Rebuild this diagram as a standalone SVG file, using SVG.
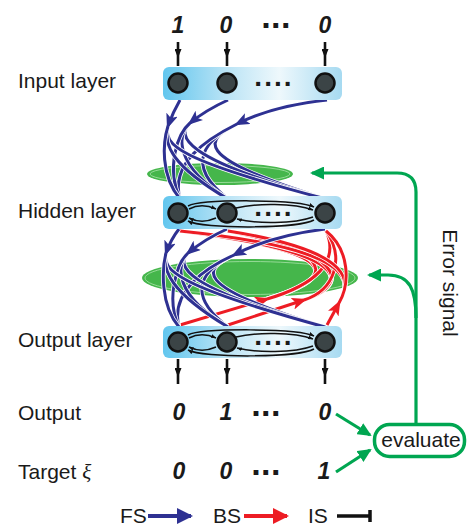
<svg xmlns="http://www.w3.org/2000/svg" width="467" height="526" viewBox="0 0 467 526">
<style>
text{font-family:"Liberation Sans",Arial,sans-serif;fill:#1a1a1a}
.lbl{font-size:21px}
.num{font-size:23px;font-weight:bold;font-style:italic;text-anchor:middle}
.dots{font-size:34px;font-weight:bold;text-anchor:middle;letter-spacing:-1.5px}
.bdots{font-size:28px;font-weight:bold;text-anchor:middle;letter-spacing:0.5px}
.box{fill:url(#lay)}
.nd{fill:#3b4446;stroke:#111;stroke-width:2.5}
.lat{fill:none;stroke:#111;stroke-width:1.5;marker-end:url(#mS)}
.fs{fill:none;stroke:#2e3192;stroke-width:3}
.bs{fill:none;stroke:#ed1c24;stroke-width:3}
.halo{fill:none;stroke:#fff;stroke-width:4.6}
.gr{fill:none;stroke:#00a651;stroke-width:3.2;marker-end:url(#mG)}
.blk{fill:none;stroke:#111;stroke-width:2.6;marker-mid:url(#mK)}
.ell{fill:#45b64b}
.ell2{fill:none;stroke:#a8e2a8;stroke-width:0.8}
</style>
<defs>
<linearGradient id="lay" x1="0" y1="0" x2="1" y2="0">
<stop offset="0" stop-color="#62c6ee"/>
<stop offset="0.35" stop-color="#b9e3f5"/>
<stop offset="0.65" stop-color="#eef8fc"/>
<stop offset="1" stop-color="#a6daf1"/>
</linearGradient>
<marker id="mB" markerUnits="userSpaceOnUse" viewBox="0 0 15 12" refX="12" refY="6" markerWidth="15" markerHeight="12" orient="auto"><path d="M0,0 L15,6 L0,12 L3.5,6 Z" fill="#2e3192"/></marker>
<marker id="mR" markerUnits="userSpaceOnUse" viewBox="0 0 15 12" refX="12" refY="6" markerWidth="15" markerHeight="12" orient="auto"><path d="M0,0 L15,6 L0,12 L3.5,6 Z" fill="#ed1c24"/></marker>
<marker id="mG" markerUnits="userSpaceOnUse" viewBox="0 0 14 13" refX="12" refY="6.5" markerWidth="14" markerHeight="13" orient="auto"><path d="M0,0 L14,6.5 L0,13 Z" fill="#00a651"/></marker>
<marker id="mK" markerUnits="userSpaceOnUse" viewBox="0 0 9 7" refX="9" refY="3.5" markerWidth="9" markerHeight="7" orient="auto"><path d="M0,0 L9,3.5 L0,7 Z" fill="#111"/></marker>
<marker id="mS" markerUnits="userSpaceOnUse" viewBox="0 0 5 4" refX="5" refY="2" markerWidth="5" markerHeight="4" orient="auto"><path d="M0,0 L5,2 L0,4 Z" fill="#111"/></marker>
<marker id="mLB" markerUnits="userSpaceOnUse" viewBox="0 0 16 16" refX="14" refY="8" markerWidth="16" markerHeight="16" orient="auto"><path d="M0,0 L16,8 L0,16 Z" fill="#2e3192"/></marker>
<marker id="mLR" markerUnits="userSpaceOnUse" viewBox="0 0 16 16" refX="14" refY="8" markerWidth="16" markerHeight="16" orient="auto"><path d="M0,0 L16,8 L0,16 Z" fill="#ed1c24"/></marker>
</defs>

<g id="labels">
<text class="lbl" x="18" y="88">Input layer</text>
<text class="lbl" x="18" y="218">Hidden layer</text>
<text class="lbl" x="18" y="347">Output layer</text>
<text class="lbl" x="18" y="420">Output</text>
<text class="lbl" x="18" y="479">Target <tspan font-family="'Liberation Serif',serif" font-style="italic">ξ</tspan></text>
</g>

<g id="input-values">
<text class="num" x="178" y="33">1</text>
<text class="num" x="226" y="33">0</text>
<text class="dots" x="276" y="37">···</text>
<text class="num" x="325" y="33">0</text>
</g>
<g id="output-values">
<text class="num" x="179" y="420">0</text>
<text class="num" x="226" y="420">1</text>
<text class="dots" x="266" y="425">···</text>
<text class="num" x="325" y="420">0</text>
</g>
<g id="target-values">
<text class="num" x="179" y="479">0</text>
<text class="num" x="226" y="479">0</text>
<text class="dots" x="266" y="484">···</text>
<text class="num" x="324" y="479">1</text>
</g>

<g id="regions">
<ellipse class="ell" cx="220" cy="174" rx="73" ry="11"/>
<ellipse class="ell2" cx="220" cy="174" rx="70" ry="8.5"/>
<ellipse class="ell" cx="250" cy="278" rx="108" ry="19"/>
<ellipse class="ell2" cx="250" cy="278" rx="105" ry="16.5"/>
</g>

<g id="connectors">
<path class="blk" d="M178,42 L178,58 L178,66"/>
<path class="blk" d="M227,42 L227,58 L227,66"/>
<path class="blk" d="M325,42 L325,58 L325,66"/>
<path class="blk" d="M178,359 L178,377 L178,384"/>
<path class="blk" d="M227,359 L227,377 L227,384"/>
<path class="blk" d="M325,359 L325,377 L325,384"/>

<path class="halo" d="M237,124 C207,139 186,156 326,199"/><path class="fs" d="M237,124 C207,139 186,156 326,199"/>
<path class="halo" d="M237,124 C207,139 182,163 228,199"/><path class="fs" d="M237,124 C207,139 182,163 228,199"/>
<path class="halo" d="M237,124 C207,139 170,163 180,199"/><path class="fs" d="M237,124 C207,139 170,163 180,199"/>
<path class="halo" d="M190,123 C177,136 180,158 326,199"/><path class="fs" d="M190,123 C177,136 180,158 326,199"/>
<path class="halo" d="M190,123 C177,136 174,165 228,199"/><path class="fs" d="M190,123 C177,136 174,165 228,199"/>
<path class="halo" d="M190,123 C177,134 166,168 180,199"/><path class="fs" d="M190,123 C177,134 166,168 180,199"/>
<path class="halo" d="M168,126 C163,145 178,160 326,199"/><path class="fs" d="M168,126 C163,145 178,160 326,199"/>
<path class="halo" d="M168,126 C163,145 172,166 228,199"/><path class="fs" d="M168,126 C163,145 172,166 228,199"/>
<path class="halo" d="M168,126 C163,142 160,175 180,199"/><path class="fs" d="M168,126 C163,142 160,175 180,199"/>
<path class="halo" d="M327,100 Q272,106 237,124"/><path class="fs" d="M327,100 Q272,106 237,124" marker-end="url(#mB)"/>
<path class="halo" d="M228,100 Q206,110 190,123"/><path class="fs" d="M228,100 Q206,110 190,123" marker-end="url(#mB)"/>
<path class="halo" d="M180,100 Q173,112 168,126"/><path class="fs" d="M180,100 Q173,112 168,126" marker-end="url(#mB)"/>

<path class="halo" d="M267,299 C325,282 365,255 180,231"/><path class="bs" d="M267,299 C325,282 365,255 180,231"/>
<path class="halo" d="M267,299 C322,283 355,258 228,231"/><path class="bs" d="M267,299 C322,283 355,258 228,231"/>
<path class="halo" d="M267,299 C315,285 340,262 326,231"/><path class="bs" d="M267,299 C315,285 340,262 326,231"/>
<path class="halo" d="M304,300 C340,289 372,255 180,231"/><path class="bs" d="M304,300 C340,289 372,255 180,231"/>
<path class="halo" d="M304,300 C338,289 365,258 228,231"/><path class="bs" d="M304,300 C338,289 365,258 228,231"/>
<path class="halo" d="M304,300 C335,290 345,258 326,231"/><path class="bs" d="M304,300 C335,290 345,258 326,231"/>
<path class="halo" d="M339,303 C350,284 365,250 180,231"/><path class="bs" d="M339,303 C350,284 365,250 180,231"/>
<path class="halo" d="M339,303 C350,284 360,252 228,231"/><path class="bs" d="M339,303 C350,284 360,252 228,231"/>
<path class="halo" d="M339,303 C350,284 350,250 326,231"/><path class="bs" d="M339,303 C350,284 350,250 326,231"/>
<path class="halo" d="M180,325 L267,299"/><path class="bs" d="M180,325 L267,299" marker-end="url(#mR)"/>
<path class="halo" d="M228,325 L304,300"/><path class="bs" d="M228,325 L304,300" marker-end="url(#mR)"/>
<path class="halo" d="M327,325 Q333,314 339,303"/><path class="bs" d="M327,325 Q333,314 339,303" marker-end="url(#mR)"/>

<path class="halo" d="M234,255 C205,268 186,285 325,327"/><path class="fs" d="M234,255 C205,268 186,285 325,327"/>
<path class="halo" d="M234,255 C205,268 182,292 228,327"/><path class="fs" d="M234,255 C205,268 182,292 228,327"/>
<path class="halo" d="M234,255 C205,268 170,292 179,327"/><path class="fs" d="M234,255 C205,268 170,292 179,327"/>
<path class="halo" d="M188,253 C176,266 182,287 325,327"/><path class="fs" d="M188,253 C176,266 182,287 325,327"/>
<path class="halo" d="M188,253 C176,266 174,295 228,327"/><path class="fs" d="M188,253 C176,266 174,295 228,327"/>
<path class="halo" d="M188,253 C176,264 166,300 179,327"/><path class="fs" d="M188,253 C176,264 166,300 179,327"/>
<path class="halo" d="M166,253 C162,270 176,286 325,327"/><path class="fs" d="M166,253 C162,270 176,286 325,327"/>
<path class="halo" d="M166,253 C162,270 170,292 228,327"/><path class="fs" d="M166,253 C162,270 170,292 228,327"/>
<path class="halo" d="M166,253 C162,268 160,305 179,327"/><path class="fs" d="M166,253 C162,268 160,305 179,327"/>
<path class="halo" d="M325,229 Q270,236 234,255"/><path class="fs" d="M325,229 Q270,236 234,255" marker-end="url(#mB)"/>
<path class="halo" d="M227,229 Q205,239 188,253"/><path class="fs" d="M227,229 Q205,239 188,253" marker-end="url(#mB)"/>
<path class="halo" d="M179,229 Q171,239 166,253"/><path class="fs" d="M179,229 Q171,239 166,253" marker-end="url(#mB)"/>

<path class="gr" d="M416,424 L416,192 Q416,173 397,173 L312,173"/>
<path class="gr" d="M416,318 C416,290 410,275 388,275 L369,275"/>
<path class="gr" d="M336,414 L370,435"/>
<path class="gr" d="M336,472 L370,450"/>
</g>

<g id="input-layer">
<rect class="box" x="163" y="67" width="179" height="33" rx="6"/>
<text class="bdots" x="274" y="93">····</text>
</g>
<g id="hidden-layer">
<rect class="box" x="163" y="196" width="179" height="33" rx="6"/>
<text class="bdots" x="274" y="223">····</text>
</g>
<g id="output-layer">
<rect class="box" x="163" y="326" width="179" height="32" rx="6"/>
<text class="bdots" x="274" y="352">····</text>
</g>

<g id="lateral-connectors">
<g transform="translate(0,213)">
<path class="lat" d="M188,-7 C202,-14 298,-14 314,-6"/>
<path class="lat" d="M236,-5 C256,-10 294,-10 313,-3"/>
<path class="lat" d="M189,-4 C197,-8 207,-8 216,-4"/>
<path class="lat" d="M216,5 C207,9 197,9 189,5"/>
<path class="lat" d="M313,4 C294,11 256,11 237,6"/>
<path class="lat" d="M314,7 C298,16 202,16 188,8"/>
</g>
<g transform="translate(0,342)">
<path class="lat" d="M188,-7 C202,-14 298,-14 314,-6"/>
<path class="lat" d="M236,-5 C256,-10 294,-10 313,-3"/>
<path class="lat" d="M189,-4 C197,-8 207,-8 216,-4"/>
<path class="lat" d="M216,5 C207,9 197,9 189,5"/>
<path class="lat" d="M313,4 C294,11 256,11 237,6"/>
<path class="lat" d="M314,7 C298,16 202,16 188,8"/>
</g>
</g>

<g id="in1"><circle class="nd" cx="178" cy="83" r="9.5"/></g>
<g id="in2"><circle class="nd" cx="227" cy="83" r="9.5"/></g>
<g id="in3"><circle class="nd" cx="325" cy="83" r="9.5"/></g>
<g id="hid1"><circle class="nd" cx="178" cy="213" r="9.5"/></g>
<g id="hid2"><circle class="nd" cx="227" cy="213" r="9.5"/></g>
<g id="hid3"><circle class="nd" cx="325" cy="213" r="9.5"/></g>
<g id="out1"><circle class="nd" cx="178" cy="342" r="9.5"/></g>
<g id="out2"><circle class="nd" cx="227" cy="342" r="9.5"/></g>
<g id="out3"><circle class="nd" cx="325" cy="342" r="9.5"/></g>

<g id="evaluate">
<rect x="374.5" y="424.5" width="90" height="32" rx="15" fill="#fff" stroke="#00a651" stroke-width="3.5"/>
<text class="lbl" x="421" y="447" text-anchor="middle">evaluate</text>
</g>

<g id="error-label">
<text class="lbl" x="443" y="283" text-anchor="middle" transform="rotate(90 443 283)">Error signal</text>
</g>

<g id="legend">
<text class="lbl" x="120" y="523">FS</text>
<path d="M148,516 L191,516" stroke="#2e3192" stroke-width="4" fill="none" marker-end="url(#mLB)"/>
<text class="lbl" x="213" y="523">BS</text>
<path d="M244,516 L287,516" stroke="#ed1c24" stroke-width="4" fill="none" marker-end="url(#mLR)"/>
<text class="lbl" x="308" y="523">IS</text>
<path d="M337,516 H369 M370,510 V522" stroke="#111" stroke-width="3.5" fill="none"/>
</g>
</svg>
